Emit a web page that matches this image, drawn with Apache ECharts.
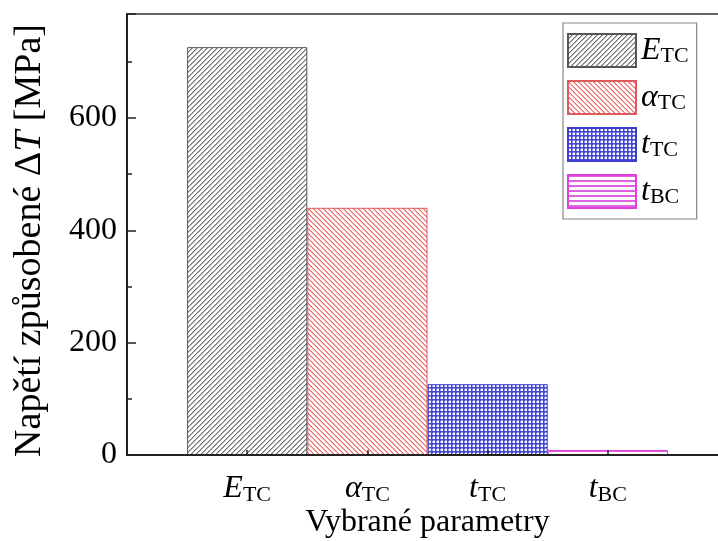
<!DOCTYPE html>
<html><head><meta charset="utf-8">
<script src="https://cdn.jsdelivr.net/npm/echarts@6/dist/echarts.min.js"></script>
<style>html,body{margin:0;padding:0;background:#fff}#c{width:718px;height:541px}</style>
</head><body><div id="c"></div>
<script>
// ---- data ----
const seriesNames = ['E_TC', 'alpha_TC', 't_TC', 't_BC'];
const mainSymbols = ['E', 'α', 't', 't'];
const subSymbols = ['TC', 'TC', 'TC', 'BC'];
const values = [726, 440, 126, 9];
const yMax = 785;
const xTitle = 'Vybrané parametry';

// ---- patterns ----
function pattern(size, bg, fg, draw) {
  const c = document.createElement('canvas');
  c.width = size; c.height = size;
  const g = c.getContext('2d');
  g.fillStyle = bg; g.fillRect(0, 0, size, size);
  g.fillStyle = fg; draw(g, size);
  return { image: c, repeat: 'repeat' };
}
const fills = [
  pattern(5, '#ffffff', '#6e6e6e', (g, s) => {
    for (let i = 0; i < s; i++) { g.fillRect(i, s - 1 - i, 1, 1); }
    g.fillStyle = '#b4b4b4';
    for (let i = 0; i < s; i++) { g.fillRect(i, (s - i) % s, 1, 1); }
  }),
  pattern(5, '#ffffff', '#ee6a6a', (g, s) => {
    for (let i = 0; i < s; i++) { g.fillRect(i, i, 1, 1); }
    g.fillStyle = '#f6aaaa';
    for (let i = 0; i < s; i++) { g.fillRect(i, (i + 1) % s, 1, 1); }
  }),
  pattern(4, '#4646d4', '#ffffff', (g, s) => { g.fillRect(1, 1, 2, 2); g.fillStyle = '#9a9ae8'; g.fillRect(0, 1, 1, 2); g.fillRect(1, 0, 2, 1); }),
  pattern(5, '#ffffff', '#e060e0', (g, s) => { g.fillRect(0, 0, s, 2); })
];
const borders = ['#555555', '#e05a5a', '#3c3cd0', '#e040e0'];

const rich = {
  m: { fontFamily: 'Liberation Serif', fontStyle: 'italic', fontSize: 32, lineHeight: 24, color: '#000' },
  s: { fontFamily: 'Liberation Serif', fontSize: 22, lineHeight: 14, padding: [12, 0, 0, 0], color: '#000' },
  n: { fontFamily: 'Liberation Serif', fontSize: 38, color: '#000' },
  i: { fontFamily: 'Liberation Serif', fontSize: 38, fontStyle: 'italic', color: '#000' }
};
function label(i) { return '{m|' + mainSymbols[i] + '}{s|' + subSymbols[i] + '}'; }

const catData = [''].concat(seriesNames).concat(['']);

const series = seriesNames.map((name, i) => ({
  name: name,
  type: 'bar',
  stack: 'all',
  barCategoryGap: '0%',
  itemStyle: { color: fills[i], borderColor: borders[i], borderWidth: 1 },
  data: catData.map((c, k) => (k === i + 1 ? values[i] : '-'))
}));

const chart = echarts.init(document.getElementById('c'), null, { renderer: 'canvas' });
chart.setOption({
  animation: false,
  backgroundColor: '#fff',
  grid: { left: 127, right: -10, top: 14, bottom: 86, show: true, borderColor: '#333', borderWidth: 1.5, outerBoundsMode: 'none' },
  legend: {
    data: seriesNames,
    orient: 'vertical', left: 563, top: 23,
    itemWidth: 68, itemHeight: 33, itemGap: 12,
    padding: [10, 8, 10, 4],
    borderColor: '#888', borderWidth: 1.2,
    icon: 'rect',
    formatter: name => label(seriesNames.indexOf(name)),
    textStyle: { rich: rich }
  },
  xAxis: {
    type: 'category',
    data: catData,
    boundaryGap: false,
    z: 5,
    axisLine: { lineStyle: { color: '#222', width: 2 } },
    axisTick: { inside: true, length: 5, lineStyle: { color: '#222', width: 1.5 } },
    axisLabel: {
      margin: 22, interval: 0,
      formatter: (v, idx) => (idx >= 1 && idx <= seriesNames.length ? label(idx - 1) : ''),
      rich: rich
    },
    splitLine: { show: false },
    name: xTitle,
    nameLocation: 'middle', nameGap: 52, nameMoveOverlap: false,
    nameTextStyle: { fontFamily: 'Liberation Serif', fontSize: 32, color: '#000' }
  },
  yAxis: [{
    type: 'value', min: 0, max: yMax, interval: 100,
    axisLine: { show: true, lineStyle: { color: '#222', width: 2 } },
    axisTick: { show: true, inside: true, length: 5, lineStyle: { color: '#222', width: 1.5 } },
    axisLabel: {
      margin: 10,
      formatter: v => (v % 200 === 0 ? String(v) : ''),
      fontFamily: 'Liberation Serif', fontSize: 32, color: '#000'
    },
    splitLine: { show: false },
    name: '{n|Napětí způsobené Δ}{i|T}{n| [MPa]}',
    nameLocation: 'middle', nameGap: 78,
    nameTextStyle: { rich: rich, padding: [0, 12, 0, 0] }
  }, {
    type: 'value', min: 0, max: yMax, interval: 200, position: 'left',
    axisLine: { show: false },
    axisTick: { show: true, inside: true, length: 9, lineStyle: { color: '#222', width: 1.5 } },
    axisLabel: { show: false },
    splitLine: { show: false }
  }],
  series: series
});
</script>
</body></html>
